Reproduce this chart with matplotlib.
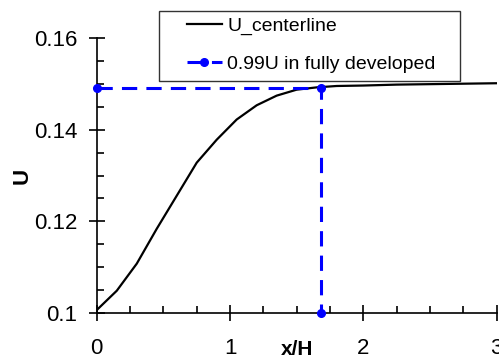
import matplotlib.pyplot as plt
from matplotlib.patches import Rectangle
from matplotlib.ticker import FuncFormatter, MultipleLocator

plt.rcParams['font.family'] = ['Liberation Sans', 'DejaVu Sans']

# centerline velocity along the channel
x_H = [0, 0.15, 0.3, 0.45, 0.6, 0.75, 0.9, 1.05, 1.2, 1.35, 1.5, 1.65,
       1.8, 2.0, 2.25, 2.5, 2.75, 3.0]
U_c = [0.1007, 0.1049, 0.1108, 0.1184, 0.1256, 0.1328, 0.1378, 0.1422,
       0.1453, 0.1474, 0.1487, 0.1492, 0.1495, 0.1496, 0.1498, 0.1499,
       0.1500, 0.1501]

# 0.99U guide
x_dev = [0, 1.685, 1.685]
U_dev = [0.1491, 0.1491, 0.1]

fig = plt.figure(figsize=(4.99, 3.6), dpi=100)
ax = fig.add_axes([0.194, 0.13, 0.801, 0.765])

ax.plot(x_H, U_c, color='black', linewidth=1.6, label='U_centerline')
ax.plot(x_dev, U_dev, color='blue', linewidth=2.2, linestyle=(0, (5, 3)),
        marker='o', markersize=5.5, label='0.99U in fully developed',
        clip_on=False, zorder=3)

ax.set_xlim(0, 3)
ax.set_ylim(0.1, 0.16)
ax.spines['top'].set_visible(False)
ax.spines['right'].set_visible(False)
ax.spines['left'].set_linewidth(1.2)
ax.spines['bottom'].set_linewidth(1.2)

ax.xaxis.set_major_locator(MultipleLocator(1))
ax.xaxis.set_minor_locator(MultipleLocator(0.25))
ax.yaxis.set_major_locator(MultipleLocator(0.02))
ax.yaxis.set_minor_locator(MultipleLocator(0.005))
ax.yaxis.set_major_formatter(FuncFormatter(lambda v, p: '%g' % round(v, 3)))
ax.xaxis.set_major_formatter(FuncFormatter(lambda v, p: '%g' % v))

ax.tick_params(which='major', direction='inout', length=12, width=1.2,
               labelsize=16)
ax.tick_params(axis='y', which='major', pad=8)
ax.tick_params(axis='x', which='major', pad=12)
ax.tick_params(which='minor', direction='in', length=5, width=1.2)

ax.set_xlabel('x/H', fontsize=15, fontweight='bold')
ax.set_ylabel('U', fontsize=16, fontweight='bold')
ax.xaxis.set_label_coords(0.5, -0.098)
ax.yaxis.set_label_coords(-0.16, 0.5)

# legend frame drawn separately to match the wide padding
ax.add_patch(Rectangle((0.3192, 0.7758), 0.6026, 0.1944,
                       transform=fig.transFigure, clip_on=False,
                       facecolor='white', edgecolor='#333333',
                       linewidth=1.0, zorder=4))
leg = ax.legend(loc='upper left', bbox_to_anchor=(0.374, 0.951),
                bbox_transform=fig.transFigure, borderaxespad=0,
                fontsize=14, handlelength=1.8, handletextpad=0.3,
                labelspacing=1.04, borderpad=0, frameon=False)
leg.set_zorder(5)

fig.savefig('out.png', dpi=100)
